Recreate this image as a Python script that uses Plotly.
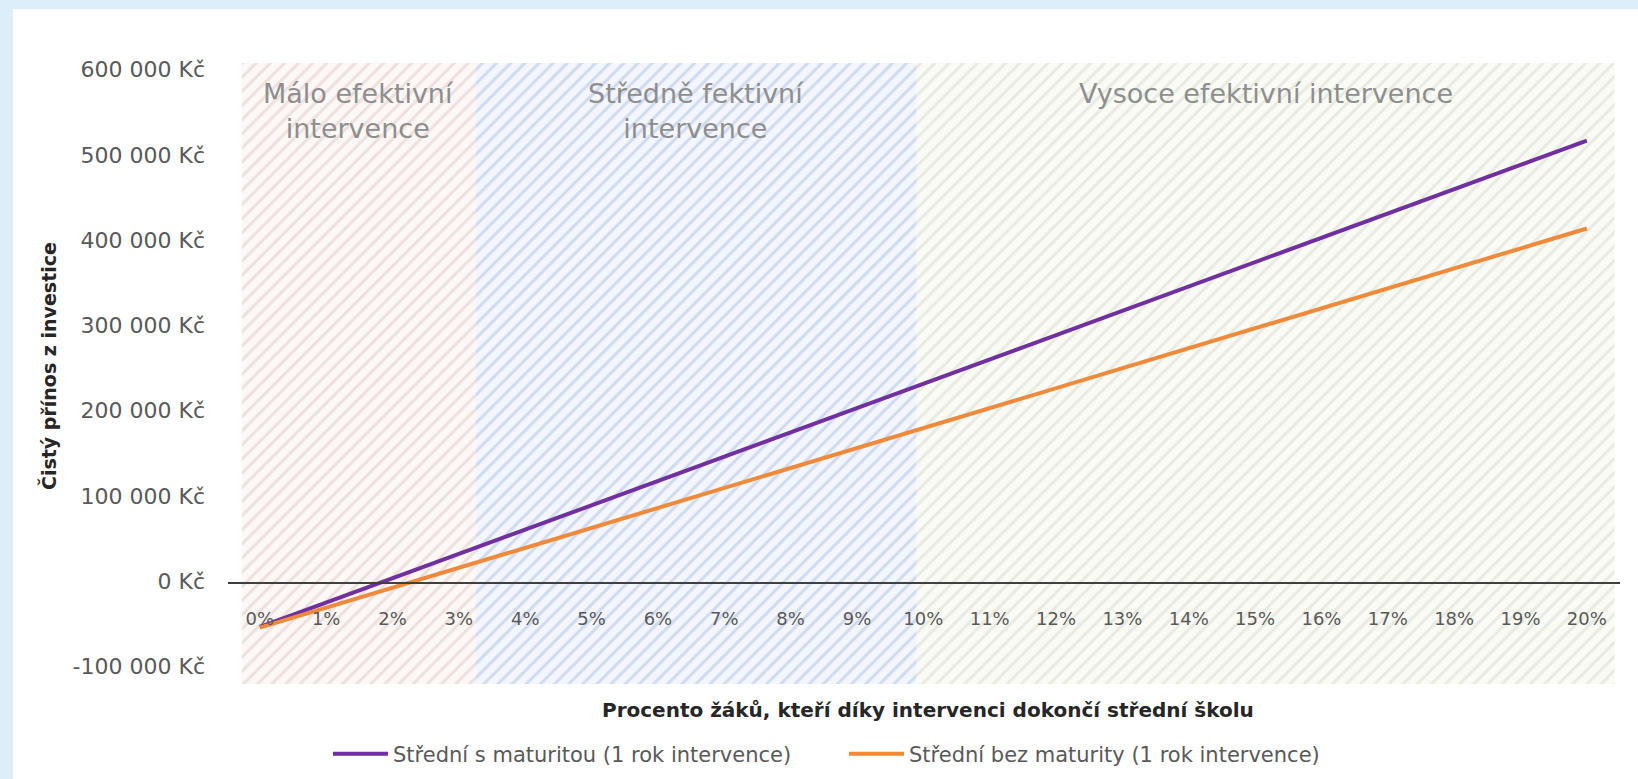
import plotly.graph_objects as go

# ---- data ----
categories = ["0%", "1%", "2%", "3%", "4%", "5%", "6%", "7%", "8%", "9%", "10%",
              "11%", "12%", "13%", "14%", "15%", "16%", "17%", "18%", "19%", "20%"]
x_pos = [0, 1, 2, 3, 4, 5, 6, 7, 8, 9, 10, 11, 12, 13, 14, 15, 16, 17, 18, 19, 20]

s_maturitou = [-51000, -22500, 6000, 34500, 63000, 91500, 120000, 148500, 177000, 205500,
               234000, 262500, 291000, 319500, 348000, 376500, 405000, 433500, 462000,
               490500, 519000]
bez_maturity = [-52000, -28600, -5200, 18200, 41600, 65000, 88400, 111800, 135200, 158600,
                182000, 205400, 228800, 252200, 275600, 299000, 322400, 345800, 369200,
                392600, 416000]

series_names = ["Střední s maturitou (1 rok intervence)",
                "Střední bez maturity (1 rok intervence)"]

band_labels = ["Málo efektivní<br>intervence", "Středně fektivní<br>intervence",
               "Vysoce efektivní intervence"]
band_edges = [-0.27, 3.25, 9.9, 20.42]

y_tickvals = [600000, 500000, 400000, 300000, 200000, 100000, 0, -100000]
y_ticktext = ["600 000 Kč", "500 000 Kč", "400 000 Kč", "300 000 Kč", "200 000 Kč",
              "100 000 Kč", "0 Kč", "-100 000 Kč"]

y_range = [-118000, 610000]
x_range = [-0.48, 20.5]

# ---- styles ----
band_bg = ["#fdf7f5", "#f3f6fc", "#fafbf5"]
band_fg = ["#ddcbc7", "#adc0e3", "#d8dbce"]
line_colors = ["#7030a0", "#f08a3a"]
FONT = "DejaVu Sans"

fig = go.Figure()

# hatched background bands
for i in range(3):
    x0, x1 = band_edges[i], band_edges[i + 1]
    fig.add_trace(go.Scatter(
        x=[x0, x1, x1, x0, x0],
        y=[y_range[0], y_range[0], y_range[1], y_range[1], y_range[0]],
        mode="lines", fill="toself", line=dict(width=0),
        fillcolor=band_bg[i],
        fillpattern=dict(shape="/", fgcolor=band_fg[i], bgcolor=band_bg[i],
                         size=10, solidity=0.3),
        hoverinfo="skip", showlegend=False))
    fig.add_annotation(x=(x0 + x1) / 2, y=y_range[1], xref="x", yref="y",
                       yanchor="top", yshift=-13, text=band_labels[i], showarrow=False,
                       font=dict(family=FONT, size=27, color="#8e8e8e"))

# data lines
for vals, name, col in [(s_maturitou, series_names[0], line_colors[0]),
                        (bez_maturity, series_names[1], line_colors[1])]:
    fig.add_trace(go.Scatter(x=x_pos, y=vals, mode="lines", name=name,
                             line=dict(color=col, width=4)))

L, R, T, B = 228, 18, 63, 95
W, H = 1638, 779
pw, ph = W - L - R, H - T - B
zero_frac = (0 - y_range[0]) / (y_range[1] - y_range[0])

# white panel on light-blue page
fig.add_shape(type="rect", xref="paper", yref="paper",
              x0=(13 - L) / pw, x1=(W - L) / pw + 0.01,
              y0=(H - B - H) / ph - 0.01, y1=(H - B - 9) / ph,
              fillcolor="white", line=dict(width=0), layer="below")

fig.update_layout(
    width=W, height=H,
    margin=dict(l=L, r=R, t=T, b=B, autoexpand=False),
    paper_bgcolor="#ddeefb", plot_bgcolor="rgba(0,0,0,0)",
    font=dict(family=FONT, color="#595959"),
    xaxis=dict(range=x_range, tickvals=x_pos, ticktext=categories,
               anchor="free", position=zero_frac,
               showline=True, linecolor="#404040", linewidth=2,
               showgrid=False, zeroline=False, ticks="",
               ticklabelstandoff=19,
               tickfont=dict(family=FONT, size=18, color="#595959")),
    yaxis=dict(range=y_range, tickvals=y_tickvals, ticktext=y_ticktext,
               showgrid=False, zeroline=False, showline=False, ticks="",
               ticklabelstandoff=22, ticklabelshift=-2,
               tickfont=dict(family=FONT, size=22, color="#595959")),
    legend=dict(orientation="h", x=(328 - L) / pw, xanchor="left",
                y=(H - B - 754) / ph, yanchor="middle", itemwidth=55,
                entrywidth=446, entrywidthmode="pixels",
                font=dict(family=FONT, size=21, color="#595959"),
                bgcolor="rgba(0,0,0,0)"),
    showlegend=True,
)

# axis titles
fig.add_annotation(xref="paper", yref="paper", x=(928 - L) / pw, y=(H - B - 710) / ph,
                   text="<b>Procento žáků, kteří díky intervenci dokončí střední školu</b>",
                   showarrow=False, xanchor="center", yanchor="middle",
                   font=dict(family=FONT, size=20, color="#262626"))
fig.add_annotation(xref="paper", yref="paper", x=(49 - L) / pw, y=(H - B - 366) / ph,
                   text="<b>Čistý přínos z investice</b>", textangle=-90,
                   showarrow=False, xanchor="center", yanchor="middle",
                   font=dict(family=FONT, size=19, color="#262626"))

fig.write_html("out.html", config={"displayModeBar": False},
               post_script="document.body.style.margin='0';")
